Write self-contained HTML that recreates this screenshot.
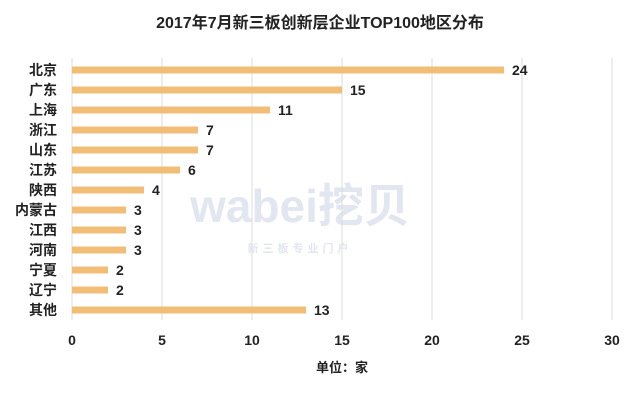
<!DOCTYPE html>
<html><head><meta charset="utf-8"><style>
body{margin:0;background:#fff;width:640px;height:400px;overflow:hidden}
svg{font-family:"Liberation Sans","Noto Sans CJK SC",sans-serif;font-weight:bold}
</style></head><body>
<svg id="c" width="640" height="400">
<text x="320" y="28" text-anchor="middle" font-size="16" fill="#222">2017年7月新三板创新层企业TOP100地区分布</text>
<text x="300" y="222" text-anchor="middle" font-size="46" fill="#e2e6f0">wabei挖贝</text>
<text x="300" y="252" text-anchor="middle" font-size="11" fill="#e2e6f0" letter-spacing="4">新三板专业门户</text>
<g id="grid"></g><g id="bars"></g>
<text x="342" y="372" text-anchor="middle" font-size="13" fill="#222">单位：家</text>
</svg>
<script>
const categories=["北京","广东","上海","浙江","山东","江苏","陕西","内蒙古","江西","河南","宁夏","辽宁","其他"];
const values=[24,15,11,7,7,6,4,3,3,3,2,2,13];
const ticks=[0,5,10,15,20,25,30];
const NS="http://www.w3.org/2000/svg";
const x=v=>72+v*18;
const y=i=>70+i*20;
function mk(t,a,p){const e=document.createElementNS(NS,t);for(const k in a)e.setAttribute(k,a[k]);p.appendChild(e);return e;}
const g=document.getElementById('grid'),b=document.getElementById('bars');
ticks.forEach(t=>{
 const l=mk('line',{x1:x(t),x2:x(t),y1:58,y2:320,stroke:'#dcdcdc','stroke-width':1},g);
 
 
 const tx=mk('text',{x:x(t),y:345,'text-anchor':'middle','font-size':14,fill:'#222'},g);
 tx.textContent=t;
 
 
});
categories.forEach((c,i)=>{
 const r=mk('rect',{x:x(0),y:y(i)-3.5,width:x(values[i])-x(0),height:7,fill:'#f2bd77'},b);
 
 
 const lb=mk('text',{x:57,y:y(i)+5,'text-anchor':'end','font-size':14,fill:'#222'},b);
 lb.textContent=c;
 
 
 const v=mk('text',{x:x(values[i])+8,y:y(i)+5,'font-size':14,fill:'#222'},b);
 v.textContent=values[i];
 
 
});
</script>
</body></html>
